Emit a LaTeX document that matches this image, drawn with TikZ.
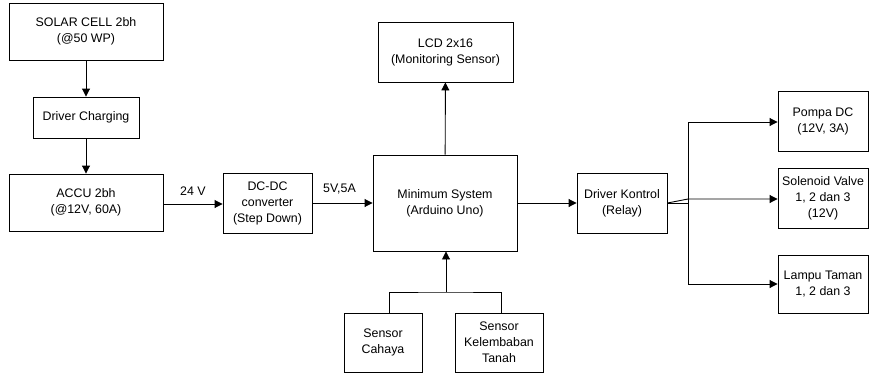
\documentclass[tikz,border=0pt]{standalone}
\usepackage{fontspec}
\setmainfont{Liberation Sans}
\usetikzlibrary{arrows.meta}

\begin{document}
\begin{tikzpicture}
[
	x=1pt, y=-1pt,
	block/.style={draw,line width=0.9pt,align=center,inner sep=0pt,font=\fontsize{12.4}{16}\selectfont},
	wide/.style={minimum width=154pt,minimum height=57pt},
	small/.style={minimum width=90pt,minimum height=60pt},
	link/.style={line width=0.9pt},
	arrow/.style={link,-{Triangle[length=8pt,width=8pt]}},
	lbl/.style={font=\fontsize{12.4}{16}\selectfont,inner sep=2pt}
]
	\useasboundingbox (0,0) rectangle (869,375);

	% power supply
	\node[block,wide] at (86,31.5) (solar) {SOLAR CELL 2bh\\(@50 WP)};
	\node[block,minimum width=106pt,minimum height=41pt] at (86,117.5) (charging) {Driver Charging};
	\node[block,wide] at (86,202.5) (accu) {ACCU 2bh\\(@12V, 60A)};
	\node[block,minimum width=89pt,minimum height=60pt] at (267.5,203) (dcdc) {DC-DC\\converter\\(Step Down)};

	\draw[arrow] (solar) -- (charging);
	\draw[arrow] (charging) -- (accu);
	\draw[arrow] (accu.east |- 0,204) -- (dcdc.west |- 0,204) node[lbl,midway,above=6pt] {24 V};

	% controller
	\node[block,minimum width=144pt,minimum height=96pt] at (445,203) (ms) {Minimum System\\(Arduino Uno)};
	\node[block,minimum width=135pt,minimum height=60pt] at (445.5,52) (lcd) {LCD 2x16\\(Monitoring Sensor)};

	\draw[arrow] (dcdc) -- (ms) node[lbl,pos=0.45,above=6pt] {5V,5A};
	\draw[arrow] (ms) -- (lcd);

	% sensors
	\node[block,minimum width=78pt,minimum height=59pt] at (383,342.5) (cahaya) {Sensor\\Cahaya};
	\node[block,minimum width=88pt,minimum height=59pt] at (499,342.5) (tanah) {Sensor\\Kelembaban\\Tanah};

	\coordinate (sensjoin) at (446,292);
	\draw[link] ([xshift=6pt]cahaya.north) |- (sensjoin) -| ([xshift=2pt]tanah.north);
	\draw[arrow] (sensjoin) -- (ms.south -| sensjoin);

	% outputs
	\node[block,small] at (622,203) (relay) {Driver Kontrol\\(Relay)};
	\node[block,small] at (823,121) (pompa) {Pompa DC\\(12V, 3A)};
	\node[block,small] at (823,198) (valve) {Solenoid Valve\\1, 2 dan 3\\(12V)};
	\node[block,small,minimum height=58pt] at (823,284) (lampu) {Lampu Taman\\1, 2 dan 3};

	\draw[arrow] (ms) -- (relay);

	\coordinate (split) at (688,203);
	\coordinate (splitb) at (688,199);
	\draw[arrow] (relay.east) -- (split) |- (pompa.west |- 0,122);
	\draw[arrow] (split) |- (lampu.west);
	\draw[arrow] (relay.east) -- (splitb) -- (valve.west |- splitb);

\end{tikzpicture}
\end{document}
